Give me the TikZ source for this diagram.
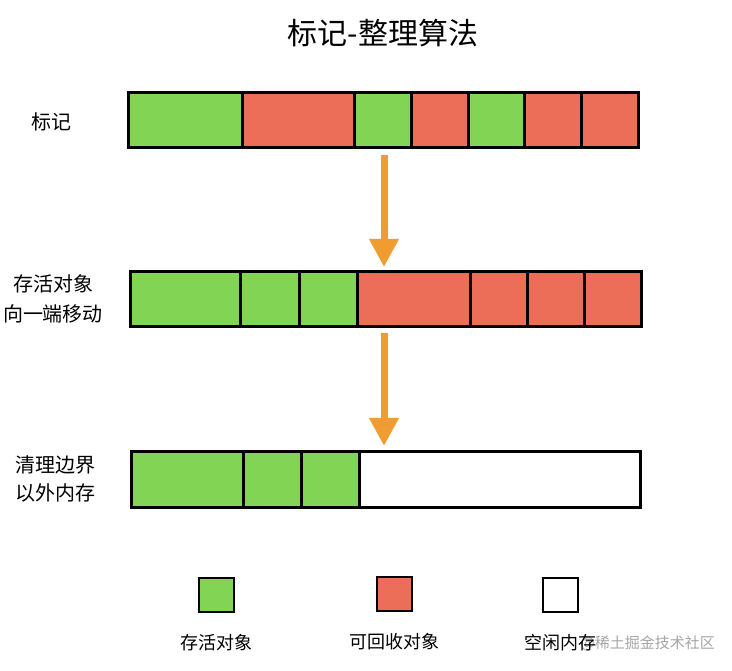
\documentclass[tikz,border=0pt]{standalone}
\usepackage{fontspec}
\setmainfont{Noto Sans CJK SC}
\usetikzlibrary{arrows.meta}
\definecolor{livegreen}{HTML}{82D454}
\definecolor{deadred}{HTML}{EC6E58}
\definecolor{arroworange}{HTML}{F09C30}
\tikzset{
  cell/.style={draw=black,line width=3pt},
  legendbox/.style={draw=black,line width=2pt,minimum width=35pt,minimum height=34pt,inner sep=0pt},
  lbl/.style={font=\fontsize{20}{24}\selectfont,align=center,inner sep=0pt},
  leg/.style={font=\fontsize{18}{22}\selectfont,inner sep=0pt},
  flow/.style={draw=arroworange,line width=7pt,-{Triangle[width=28pt,length=28pt]}}
}
\begin{document}
\begin{tikzpicture}[x=1pt,y=-1pt]
\useasboundingbox[fill=white] (0,0) rectangle (732,671);
\node[font=\fontsize{30}{34}\selectfont] (title) at (383,33) {标记-整理算法};
% row 1
\foreach \a/\b/\c in {128/242/livegreen,242/354/deadred,354/411/livegreen,411/468/deadred,468/524/livegreen,524/581/deadred,581/638/deadred}
  \path[cell,fill=\c] (\a,93) rectangle (\b,148);
\coordinate (r1) at (384,155);
\coordinate (r2t) at (384,267);
% row 2
\foreach \a/\b/\c in {130/240/livegreen,240/299/livegreen,299/357/livegreen,357/470/deadred,470/527/deadred,527/584/deadred,584/641/deadred}
  \path[cell,fill=\c] (\a,272) rectangle (\b,327);
\coordinate (r2) at (384,333);
\coordinate (r3t) at (384,446);
% row 3
\foreach \a/\b/\c in {131/243/livegreen,243/301/livegreen,301/359/livegreen,359/640/white}
  \path[cell,fill=\c] (\a,452) rectangle (\b,507);
% arrows
\draw[flow] (r1) -- (r2t);
\draw[flow] (r2) -- (r3t);
% labels
\node[lbl] (l1) at (51,122) {标记};
\node[lbl] (l2) at (53,299) {存活对象\\[6pt]向一端移动};
\node[lbl] (l3) at (56,479) {清理边界\\[4pt]以外内存};
% legend
\node[legendbox,fill=livegreen] (g) at (216,595) {};
\node[legendbox,fill=deadred] (r) at (394,594) {};
\node[legendbox,fill=white] (w) at (560,595) {};
\node[leg] (gl) at (216,643) {存活对象};
\node[leg] (rl) at (394,642) {可回收对象};
\node[text=black!35,font=\fontsize{15}{18}\selectfont,anchor=east,inner sep=0pt] (wm) at (715,643) {@稀土掘金技术社区};
\node[leg] (wl) at (560,643) {空闲内存};
\end{tikzpicture}
\end{document}
